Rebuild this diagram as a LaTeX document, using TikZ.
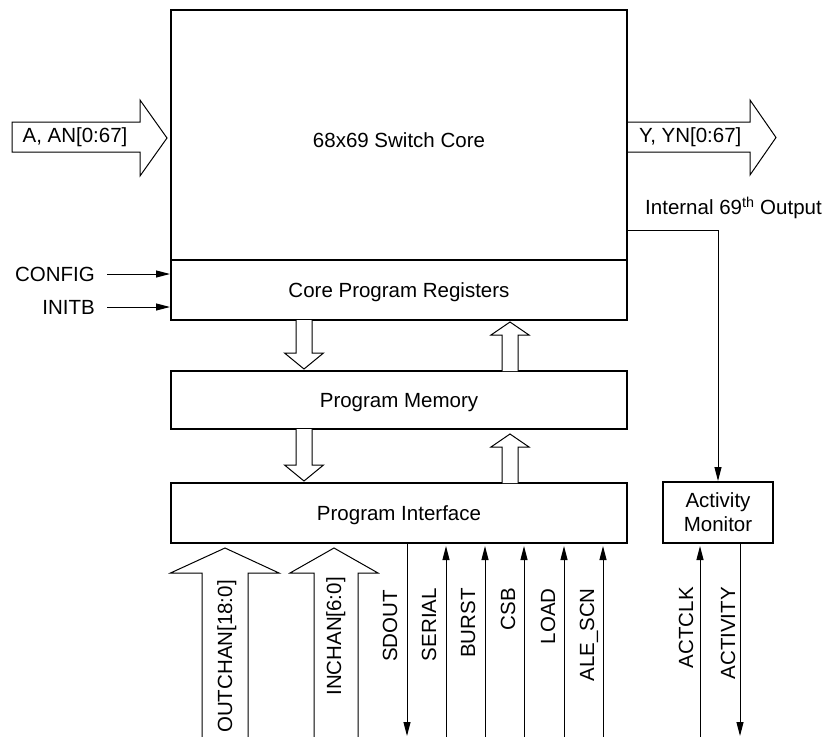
\documentclass[tikz,border=0pt]{standalone}
\usepackage{fontspec}
\setmainfont{Liberation Sans}
\usetikzlibrary{arrows.meta}
\begin{document}
\begin{tikzpicture}[x=1pt,y=-1pt,
  blk/.style={draw, line width=2pt, inner sep=0pt, font=\fontsize{20.5}{24}\selectfont},
  txt/.style={font=\fontsize{20.5}{24}\selectfont, inner sep=0pt},
  sig/.style={line width=1pt, -{Triangle[length=14pt,width=7pt]}},
  hol/.style={draw, fill=white, line width=1pt, line join=miter},
  vlab/.style={txt, rotate=90, anchor=base east},
]
\useasboundingbox (0,0) rectangle (831,737);
% blocks
\node[blk, minimum width=456pt, minimum height=250pt] (core) at (399,135) {};
\node[txt] (coretxt) at (399,140) {68x69 Switch Core};
\node[blk, minimum width=456pt, minimum height=60pt] (reg) at (399,290) {};
\node[txt, text depth=0pt] (regtxt) at (399,290) {Core Program Registers};
\node[blk, minimum width=456pt, minimum height=58pt] (mem) at (399,400) {};
\node[txt, text depth=0pt] (memtxt) at (399,400.5) {Program Memory};
\node[blk, minimum width=456pt, minimum height=60pt] (pif) at (399,513) {};
\node[txt, text depth=0pt] (piftxt) at (399,513) {Program Interface};
\node[blk, minimum width=110pt, minimum height=61pt, align=center] (act) at (718,512.5) {Activity\\Monitor};
% hollow arrows between blocks
\draw[hol] (296,320) -- (296,353) -- (284.5,353) -- (304,369) -- (323.5,353) -- (312,353) -- (312,320);
\draw[hol] (296,429) -- (296,465) -- (284.5,465) -- (304,481) -- (323.5,465) -- (312,465) -- (312,429);
\draw[hol] (502,371) -- (502,335) -- (491,335) -- (510,322) -- (529,335) -- (518,335) -- (518,371);
\draw[hol] (502,483) -- (502,447) -- (491,447) -- (510,434) -- (529,447) -- (518,447) -- (518,483);
% bus in / out
\draw[hol] (12,122) -- (140,122) -- (140,100) -- (167,138) -- (140,176) -- (140,152) -- (12,152) -- cycle;
\node[txt] (ain) at (75,137) {A, AN[0:67]};
\draw[hol] (628,122) -- (750,122) -- (750,100) -- (776,137.5) -- (750,175) -- (750,152) -- (628,152);
\node[txt, anchor=west] (yout) at (639,137) {Y, YN[0:67]};
% config / initb
\node[txt, anchor=east] (config) at (95,274) {CONFIG};
\node[txt, anchor=east] (initb) at (95,307) {INITB};
\draw[sig] ([xshift=12pt]config.east) -- (config.east -| reg.west);
\draw[sig] ([xshift=12pt]initb.east) -- (initb.east -| reg.west);
% internal output
\node[txt, anchor=west] (int) at (645,208) {Internal 69\textsuperscript{th} Output};
\coordinate (tap) at (627,230);
\draw[sig] (tap) -| (act.north);
% bottom hollow buses
\draw[hol] (202,737) -- (202,573) -- (170.5,573) -- (225,548) -- (279,573) -- (248,573) -- (248,737);
\draw[hol] (314,737) -- (314,573) -- (290,573) -- (334,548) -- (378,573) -- (358,573) -- (358,737);
\node[vlab] (outchan) at (232,580) {OUTCHAN[18:0]};
\node[vlab] (inchan) at (341,577) {INCHAN[6:0]};
% signal lines
\coordinate (sdout) at (407,736);
\coordinate (serial) at (446,737);
\coordinate (burst) at (485,737);
\coordinate (csb) at (524,737);
\coordinate (load) at (564,737);
\coordinate (ale) at (603,737);
\coordinate (actclk) at (700,737);
\coordinate (activity) at (740,736);
\draw[sig] (sdout |- pif.south) -- (sdout);
\draw[sig] (serial) -- ([yshift=-2pt]serial |- pif.south);
\draw[sig] (burst) -- ([yshift=-2pt]burst |- pif.south);
\draw[sig] (csb) -- ([yshift=-2pt]csb |- pif.south);
\draw[sig] (load) -- ([yshift=-2pt]load |- pif.south);
\draw[sig] (ale) -- ([yshift=-2pt]ale |- pif.south);
\draw[sig] (actclk) -- ([yshift=-2pt]actclk |- act.south);
\draw[sig] (activity |- act.south) -- (activity);
\node[vlab] (lsdout) at (397,590) {SDOUT};
\node[vlab] (lserial) at (436,588) {SERIAL};
\node[vlab] (lburst) at (475,588) {BURST};
\node[vlab] (lcsb) at (515,588) {CSB};
\node[vlab] (lload) at (555,588) {LOAD};
\node[vlab] (lale) at (594,588) {ALE\_SCN};
\node[vlab] (lactclk) at (693,587) {ACTCLK};
\node[vlab] (lactivity) at (735,587) {ACTIVITY};
\end{tikzpicture}
\end{document}
